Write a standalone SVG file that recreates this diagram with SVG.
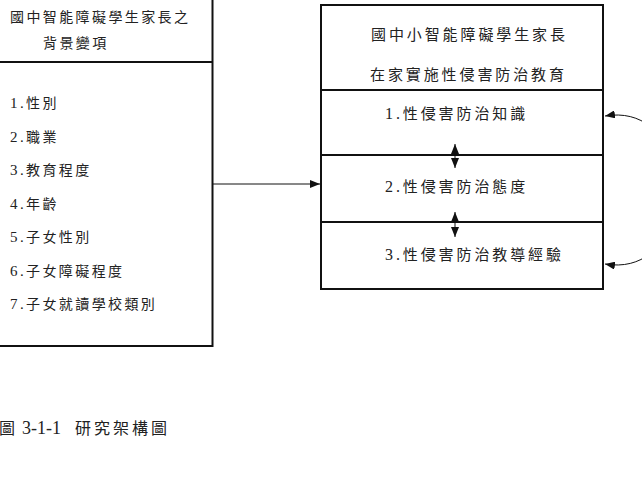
<svg xmlns="http://www.w3.org/2000/svg" width="642" height="497" viewBox="0 0 642 497">
<style>
.box{fill:#fff;stroke:#111;stroke-width:2}
.div{stroke:#111;stroke-width:2}
.ln{fill:none;stroke:#111;stroke-width:1}
.tl{font-family:"Liberation Serif","Noto Sans CJK TC",serif;font-size:14px;letter-spacing:2.4px;fill:#222}
.tr{font-family:"Liberation Serif","Noto Sans CJK TC",serif;font-size:15px;letter-spacing:2.9px;fill:#222}
.cap{font-family:"Liberation Serif","Noto Sans CJK TC",serif;font-size:16px;fill:#222}
.capn{font-size:18px}
.dl{font-size:15px}
.dr{font-size:16px}
</style>
<defs>
<marker id="ah" viewBox="0 0 10 8" refX="10" refY="4" markerWidth="10" markerHeight="8" markerUnits="userSpaceOnUse" orient="auto-start-reverse">
<path d="M0,0 L10,4 L0,8 Z" fill="#111"/>
</marker>
</defs>
<rect width="642" height="497" fill="#fff"/>
<g id="background-variables">
<rect class="box" x="-5" y="-5" width="217.5" height="351"/>
<line class="div" x1="-5" y1="62" x2="212.5" y2="62"/>
<text class="tl" x="10" y="22">國中智能障礙學生家長之</text>
<text class="tl" x="43" y="48">背景變項</text>
<text class="tl" x="10" y="108"><tspan class="dl">1.</tspan>性別</text>
<text class="tl" x="10" y="141.5"><tspan class="dl">2.</tspan>職業</text>
<text class="tl" x="10" y="175"><tspan class="dl">3.</tspan>教育程度</text>
<text class="tl" x="10" y="208.5"><tspan class="dl">4.</tspan>年齡</text>
<text class="tl" x="10" y="242"><tspan class="dl">5.</tspan>子女性別</text>
<text class="tl" x="10" y="275.5"><tspan class="dl">6.</tspan>子女障礙程度</text>
<text class="tl" x="10" y="309"><tspan class="dl">7.</tspan>子女就讀學校類別</text>
</g>
<g id="home-education">
<rect class="box" x="321" y="5" width="282" height="284"/>
<text class="tr" x="371" y="40">國中小智能障礙學生家長</text>
<text class="tr" x="370" y="80">在家實施性侵害防治教育</text>
</g>
<g id="knowledge">
<line class="div" x1="321" y1="90" x2="603" y2="90"/>
<text class="tr" x="385" y="119"><tspan class="dr">1.</tspan>性侵害防治知識</text>
</g>
<g id="attitude">
<line class="div" x1="321" y1="155" x2="603" y2="155"/>
<text class="tr" x="385" y="192"><tspan class="dr">2.</tspan>性侵害防治態度</text>
</g>
<g id="experience">
<line class="div" x1="321" y1="222" x2="603" y2="222"/>
<text class="tr" x="385" y="260"><tspan class="dr">3.</tspan>性侵害防治教導經驗</text>
</g>
<g id="connectors">
<line class="ln" x1="213" y1="184" x2="320" y2="184" marker-end="url(#ah)"/>
<line class="ln" x1="455" y1="144" x2="455" y2="168" marker-start="url(#ah)" marker-end="url(#ah)"/>
<line class="ln" x1="455" y1="212" x2="455" y2="237" marker-start="url(#ah)" marker-end="url(#ah)"/>
<path class="ln" d="M605,116 C700,100 700,280 605,264" marker-start="url(#ah)" marker-end="url(#ah)"/>
</g>
<g id="caption">
<text class="cap" x="-1" y="434">圖</text>
<text class="cap capn" x="22" y="434">3-1-1</text>
<text class="cap" x="75" y="434" letter-spacing="3">研究架構圖</text>
</g>
</svg>
